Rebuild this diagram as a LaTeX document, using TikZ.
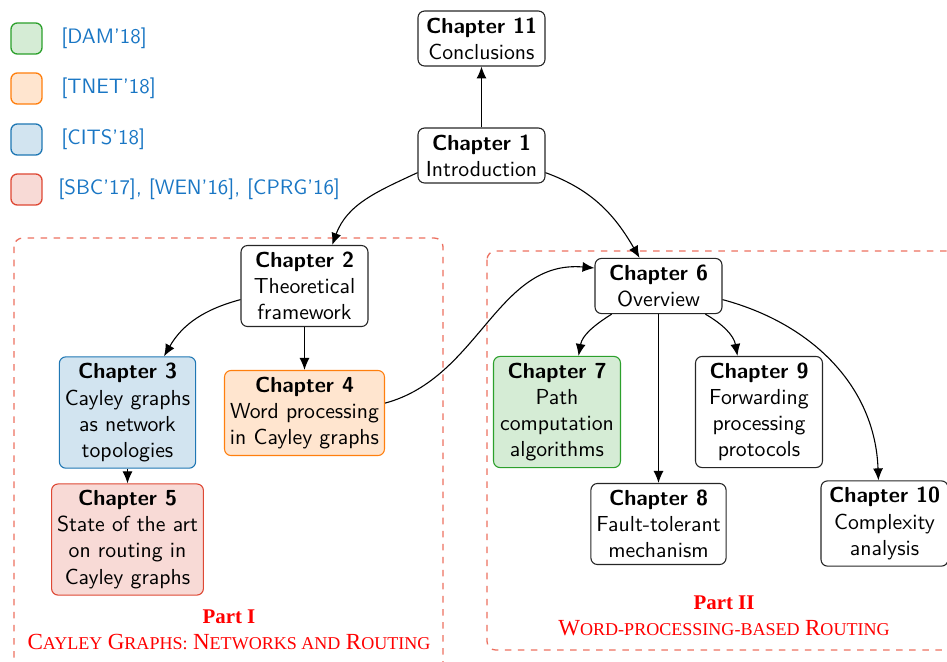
\documentclass[tikz,border=0pt]{standalone}
\usepackage{fontspec}
\newfontfamily\partfont{Liberation Serif}
\usetikzlibrary{arrows.meta}

% palette
\definecolor{tgreen}{RGB}{44,160,44}
\definecolor{torange}{RGB}{255,127,14}
\definecolor{tblue}{RGB}{31,119,180}
\definecolor{tred}{RGB}{222,72,52}
\definecolor{partred}{RGB}{236,112,96}
\definecolor{citeblue}{RGB}{25,118,196}

% small capitals built by hand for the part subtitles
\newcommand\BigC[1]{{\fontsize{10.6pt}{12pt}\selectfont #1}}
\newcommand\SmC[1]{{\fontsize{8.3pt}{9pt}\selectfont #1}}

\begin{document}
\begin{tikzpicture}[x=0.46pt, y=-0.46pt, font=\sffamily,
  chap/.style={draw=black!85, line width=0.5pt, rounded corners=3pt,
    align=center, minimum width=58.4pt, inner xsep=2.5pt, inner ysep=3pt},
  arr/.style={-{Latex[length=5.5pt,width=4.6pt]}, line width=0.5pt},
  partbox/.style={draw=partred, dashed, line width=0.6pt, rounded corners=4pt},
  keybox/.style={rounded corners=3pt, minimum size=14.3pt, inner sep=0pt, line width=0.6pt},
  keytext/.style={anchor=west, inner sep=0pt, text=citeblue, font=\sffamily\fontsize{9.6pt}{11pt}\selectfont},
  parttitle/.style={align=center, text=red, font=\partfont, inner sep=0pt}]

\clip (0,0) rectangle (947,661);

% the two parts
\draw[partbox] (14,238) rectangle (443,690);
\draw[partbox] (487,251) rectangle (980,650);

% legend
\node[keybox, draw=tgreen, fill=tgreen!20] (kdam) at (26.5,38.5) {};
\node[keybox, draw=torange, fill=torange!20] (ktnet) at (26.5,88.5) {};
\node[keybox, draw=tblue, fill=tblue!20] (kcits) at (26.5,139.5) {};
\node[keybox, draw=tred, fill=tred!20] (ksbc) at (26.5,189.5) {};
\node[keytext] (tdam) at (61,38.5) {[DAM'18]};
\node[keytext] (ttnet) at (61,88.5) {[TNET'18]};
\node[keytext] (tcits) at (61,139.5) {[CITS'18]};
\node[keytext] (tsbc) at (58,189.5) {[SBC'17], [WEN'16], [CPRG'16]};

% chapters
\node[chap] (c11) at (481.5,38.5) {\textbf{Chapter 11}\\Conclusions};
\node[chap] (c1) at (481.5,155.5) {\textbf{Chapter 1}\\Introduction};
\node[chap] (c2) at (304.5,286) {\textbf{Chapter 2}\\Theoretical\\framework};
\node[chap, draw=tblue, fill=tblue!20] (c3) at (127.5,412.5) {\textbf{Chapter 3}\\Cayley graphs\\as network\\topologies};
\node[chap, draw=torange, fill=torange!20] (c4) at (304.5,413) {\textbf{Chapter 4}\\Word processing\\in Cayley graphs};
\node[chap, draw=tred, fill=tred!20] (c5) at (127.5,539.5) {\textbf{Chapter 5}\\State of the art\\on routing in\\Cayley graphs};
\node[chap] (c6) at (658.5,286) {\textbf{Chapter 6}\\Overview};
\node[chap, draw=tgreen, fill=tgreen!20] (c7) at (557,412) {\textbf{Chapter 7}\\Path\\computation\\algorithms};
\node[chap] (c8) at (658.5,524) {\textbf{Chapter 8}\\Fault-tolerant\\mechanism};
\node[chap] (c9) at (759,412) {\textbf{Chapter 9}\\Forwarding\\processing\\protocols};
\node[chap] (c10) at (884.5,523.5) {\textbf{Chapter 10}\\Complexity\\analysis};

% part titles
\node[parttitle] (p1) at (229,630) {\fontsize{9.6pt}{12pt}\selectfont\textbf{Part I}\\\BigC{C}\SmC{AYLEY} \BigC{G}\SmC{RAPHS:} \BigC{N}\SmC{ETWORKS AND} \BigC{R}\SmC{OUTING}};
\node[parttitle] (p2) at (724,615.5) {\fontsize{9.6pt}{12pt}\selectfont\textbf{Part II}\\\BigC{W}\SmC{ORD-PROCESSING-BASED} \BigC{R}\SmC{OUTING}};

% reading order
\draw[arr] (c1) -- (c11);
\draw[arr] (c1.195) to[out=205, in=70] (c2.56);
\draw[arr] (c1.-15) to[out=-20, in=120] (c6.124);
\draw[arr] (c2.192) to[out=195, in=60] (c3.57);
\draw[arr] (c2) -- (c4);
\draw[arr] (c3) -- (c5);
\draw[arr] (c4.7) to[out=15, in=175] (c6.west |- 0,268);
\draw[arr] (c6.211) to[out=212, in=80] (c7.69);
\draw[arr] (c6) -- (c8);
\draw[arr] (c6.-31) to[out=-30, in=100] (c9.111);
\draw[arr] (c6.-12) to[out=-15, in=92] (c10.98);
\end{tikzpicture}
\end{document}
